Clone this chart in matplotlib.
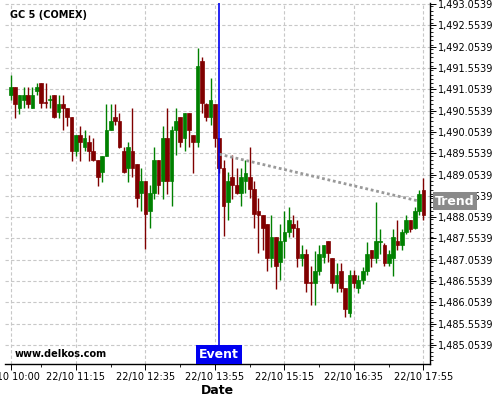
# GC 5 (COMEX) 5-minute candles, 22/10 10:00-17:55, with event marker and trend line
import numpy as np
import matplotlib as mpl; mpl.use('Agg')
import matplotlib.pyplot as plt
from matplotlib.ticker import FixedLocator, FuncFormatter, MultipleLocator
import matplotlib.transforms as mtrans

mpl.rcParams.update({'font.family': 'DejaVu Sans', 'font.size': 7})

GRN = '#008000'; RED = '#800000'; GRID = '#c8c8c8'; BLUE = '#0000f0'; GRAY = '#8a8a8a'

opens = [1490.92, 1491.11, 1490.62, 1490.81, 1490.92, 1490.62, 1491.02, 1491.20, 1490.74, 1490.81,
         1490.92, 1490.51, 1490.71, 1490.62, 1490.41, 1489.60, 1489.98, 1489.70, 1489.81, 1489.60,
         1489.40, 1489.11, 1489.50, 1490.09, 1490.40, 1490.31, 1489.60, 1489.21, 1489.60, 1489.30,
         1488.61, 1488.91, 1488.21, 1488.61, 1489.40, 1488.91, 1489.91, 1488.91, 1490.10, 1490.40,
         1489.91, 1490.49, 1489.99, 1489.82, 1491.72, 1490.70, 1490.40, 1490.70, 1489.91, 1489.21,
         1488.41, 1488.99, 1488.82, 1488.61, 1488.91, 1488.99, 1488.71, 1488.19, 1488.10, 1487.89,
         1487.10, 1487.59, 1487.00, 1487.49, 1487.70, 1487.90, 1487.80, 1487.10, 1487.20, 1486.52,
         1486.51, 1486.79, 1487.11, 1487.49, 1487.10, 1486.52, 1486.78, 1486.39, 1485.80, 1486.69,
         1486.39, 1486.59, 1486.78, 1487.29, 1487.10, 1487.48, 1487.39, 1486.98, 1487.10, 1487.49,
         1487.39, 1487.70, 1487.99, 1487.80, 1488.19, 1488.70]
highs = [1491.40, 1491.11, 1490.93, 1491.10, 1491.10, 1491.10, 1491.20, 1491.20, 1491.20, 1490.92,
         1490.93, 1490.92, 1490.92, 1490.62, 1490.41, 1489.98, 1490.20, 1490.09, 1489.98, 1489.90,
         1489.40, 1489.50, 1490.70, 1490.70, 1490.70, 1490.49, 1489.71, 1489.81, 1490.61, 1489.30,
         1489.20, 1488.91, 1488.80, 1489.69, 1489.40, 1490.20, 1490.61, 1490.20, 1490.61, 1490.40,
         1490.49, 1490.49, 1489.99, 1492.02, 1491.80, 1490.72, 1491.31, 1490.70, 1489.91, 1489.39,
         1489.12, 1489.51, 1489.20, 1489.20, 1489.39, 1489.69, 1488.91, 1488.50, 1488.10, 1487.89,
         1488.10, 1487.59, 1487.89, 1488.19, 1488.30, 1488.10, 1487.98, 1487.40, 1487.30, 1486.90,
         1487.25, 1487.40, 1487.40, 1487.49, 1487.10, 1486.99, 1486.98, 1486.39, 1486.81, 1486.81,
         1486.69, 1486.88, 1487.47, 1487.29, 1488.40, 1487.78, 1487.45, 1487.29, 1487.78, 1487.99,
         1487.78, 1488.10, 1487.99, 1488.29, 1488.68, 1488.98]
lows = [1490.80, 1490.39, 1490.48, 1490.62, 1490.62, 1490.62, 1490.92, 1490.62, 1490.62, 1490.62,
        1490.39, 1490.39, 1490.09, 1490.19, 1489.38, 1489.49, 1489.38, 1489.60, 1489.38, 1489.38,
        1488.78, 1488.88, 1489.50, 1490.09, 1490.21, 1489.68, 1489.10, 1488.88, 1488.99, 1488.30,
        1488.20, 1487.30, 1487.79, 1488.49, 1488.60, 1488.49, 1488.60, 1488.32, 1489.51, 1489.69,
        1489.60, 1489.69, 1489.10, 1489.69, 1490.49, 1490.31, 1490.21, 1489.69, 1489.08, 1487.61,
        1487.99, 1488.49, 1488.60, 1488.32, 1488.61, 1488.51, 1487.79, 1487.21, 1487.29, 1486.79,
        1486.88, 1486.38, 1486.59, 1487.10, 1487.59, 1487.59, 1486.89, 1486.90, 1486.29, 1486.00,
        1486.00, 1486.69, 1486.98, 1487.01, 1486.40, 1486.29, 1486.29, 1485.71, 1485.71, 1486.40,
        1486.27, 1486.49, 1486.69, 1486.88, 1486.98, 1487.20, 1486.90, 1486.92, 1486.67, 1487.29,
        1487.29, 1487.65, 1487.70, 1487.78, 1488.10, 1487.99]
closes = [1491.11, 1490.71, 1490.92, 1490.92, 1490.71, 1490.92, 1491.10, 1490.72, 1490.72, 1490.82,
          1490.41, 1490.71, 1490.62, 1490.41, 1489.60, 1489.98, 1489.81, 1489.90, 1489.60, 1489.40,
          1488.99, 1489.50, 1490.09, 1490.30, 1490.31, 1489.71, 1489.12, 1489.70, 1489.21, 1488.51,
          1488.91, 1488.12, 1488.61, 1489.40, 1488.82, 1489.91, 1488.91, 1490.10, 1490.31, 1489.82,
          1490.49, 1490.10, 1489.82, 1491.60, 1490.72, 1490.40, 1490.80, 1489.91, 1489.21, 1488.32,
          1488.91, 1488.82, 1488.61, 1488.99, 1489.10, 1488.71, 1488.12, 1488.11, 1487.81, 1487.10,
          1487.60, 1486.90, 1487.49, 1487.70, 1487.99, 1487.80, 1487.10, 1487.20, 1486.51, 1486.50,
          1486.79, 1487.20, 1487.40, 1487.21, 1486.52, 1486.69, 1486.39, 1485.91, 1486.69, 1486.51,
          1486.59, 1486.78, 1487.20, 1487.10, 1487.49, 1487.50, 1486.98, 1487.20, 1487.60, 1487.39,
          1487.70, 1487.99, 1487.78, 1488.19, 1488.59, 1488.10]

tick_idx = [0, 15, 31, 47, 63, 79, 95]
tick_labels = ['22/10 10:00', '22/10 11:15', '22/10 12:35', '22/10 13:55',
               '22/10 15:15', '22/10 16:35', '22/10 17:55']
event_idx = 48
trend_idx = [48, 94]
trend_val = [1489.53, 1488.43]

o = np.array(opens); c = np.array(closes); h = np.array(highs); l = np.array(lows)
x = np.arange(len(o))
col = np.where(c >= o, GRN, RED)

fig = plt.figure(figsize=(5, 4), dpi=100)
ax = fig.add_axes([0.01, 0.09, 0.85, 0.9025])

ax.vlines(x, l, h, colors=col, lw=1, zorder=3)
ax.bar(x, np.where(np.abs(c - o) < 0.02, 0.02, c - o), bottom=o, width=0.85,
       color=col, edgecolor=col, lw=0.5, zorder=4)

ax.plot(trend_idx, trend_val, ls=(0, (1, 1)), color='#999999', lw=2, zorder=5)
ax.axvline(event_idx, color=BLUE, lw=1.2, zorder=6)

ax.set_xlim(-1.33, 96.5)
ax.set_ylim(1484.61, 1493.077)

ax.xaxis.set_major_locator(FixedLocator(tick_idx))
ax.set_xticklabels(tick_labels)
ax.xaxis.set_minor_locator(FixedLocator([7, 23, 39, 55, 71, 87]))
ax.yaxis.tick_right()
ax.yaxis.set_major_locator(FixedLocator(np.arange(1485.0539, 1493.1, 0.5)))
ax.yaxis.set_minor_locator(MultipleLocator(0.1))
ax.yaxis.set_major_formatter(FuncFormatter(lambda v, p: f'{v:,.4f}'))
ax.tick_params(axis='both', which='major', length=4, width=0.7, labelsize=7, pad=1.5)
ax.tick_params(axis='both', which='minor', length=2, width=0.6)
ax.grid(True, which='major', color=GRID, ls=(0, (3, 2)), lw=0.8, zorder=0)
for s in ['top', 'left']:
    ax.spines[s].set_visible(False)
ax.spines['right'].set_linewidth(1)
ax.spines['bottom'].set_linewidth(1)

ax.set_xlabel('Date', fontsize=9, fontweight='bold', labelpad=2)

ax.text(0.012, 0.967, 'GC 5 (COMEX)', transform=ax.transAxes, fontsize=7,
        fontweight='bold', va='center', ha='left')
ax.text(0.0235, 0.028, 'www.delkos.com', transform=ax.transAxes, fontsize=7,
        fontweight='bold', va='center', ha='left')

bt = mtrans.blended_transform_factory(ax.transData, ax.transAxes)
ax.text(event_idx, 0.008, 'Event', transform=bt, ha='center', va='bottom', color='white',
        fontsize=9, fontweight='bold', zorder=7,
        bbox=dict(boxstyle='square,pad=0.25', fc=BLUE, ec='none'))

bt2 = mtrans.blended_transform_factory(ax.transAxes, ax.transData)
ax.text(1.012, trend_val[-1], 'Trend', transform=bt2, ha='left', va='center', color='white',
        fontsize=9, fontweight='bold', zorder=8, clip_on=False,
        bbox=dict(boxstyle='square,pad=0.2', fc=GRAY, ec='none'))

fig.savefig('out.png', dpi=100)
